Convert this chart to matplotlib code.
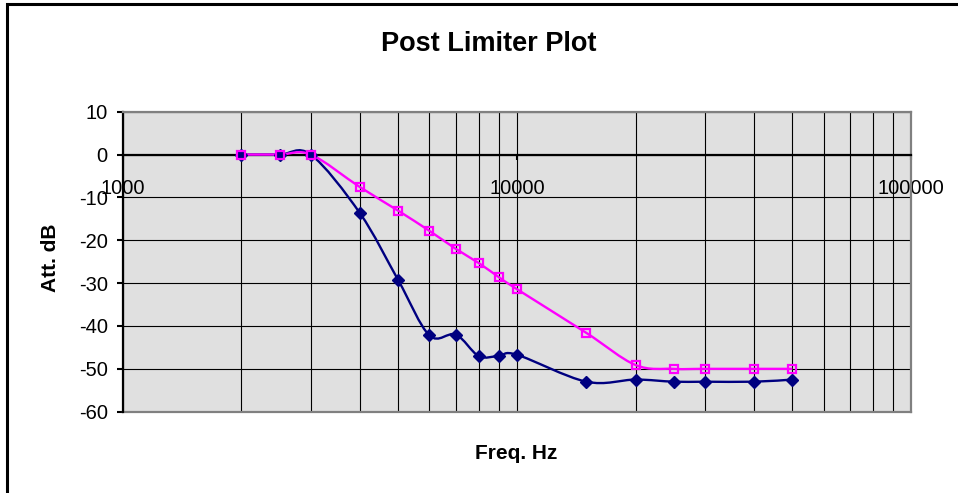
import numpy as np
import matplotlib
matplotlib.use("Agg")
import matplotlib.pyplot as plt
from matplotlib.path import Path
from matplotlib.patches import PathPatch, Rectangle
from matplotlib.ticker import LogLocator, NullFormatter

plt.rcParams['font.family'] = ['Liberation Sans', 'DejaVu Sans']
plt.rcParams['axes.unicode_minus'] = False

# data
freq = [2000, 2500, 3000, 4000, 5000, 6000, 7000, 8000, 9000, 10000,
        15000, 20000, 25000, 30000, 40000, 50000]
att_navy = [0, 0, 0, -13.7, -29.3, -42.2, -42.0, -47.0, -47.0, -46.7,
            -53.0, -52.5, -53.0, -53.0, -53.0, -52.5]
att_pink = [0, 0, 0, -7.6, -13.1, -17.8, -22.0, -25.3, -28.6, -31.4,
            -41.6, -49.1, -50.0, -50.0, -50.0, -50.0]
xticks = [1000, 10000, 100000]
xtick_labels = ['1000', '10000', '100000']
yticks = [-60, -50, -40, -30, -20, -10, 0, 10]


def smooth_path(xs, ys):
    # excel style smoothed line: bezier segments, control points in log-x space
    lx = np.log10(xs)
    y = np.asarray(ys, float)
    n = len(lx)
    verts = [(xs[0], y[0])]
    codes = [Path.MOVETO]
    for i in range(n - 1):
        a = max(i - 1, 0)
        b = min(i + 2, n - 1)
        c1 = (10 ** (lx[i] + (lx[i + 1] - lx[a]) / 6), y[i] + (y[i + 1] - y[a]) / 6)
        c2 = (10 ** (lx[i + 1] - (lx[b] - lx[i]) / 6), y[i + 1] - (y[b] - y[i]) / 6)
        verts += [c1, c2, (xs[i + 1], y[i + 1])]
        codes += [Path.CURVE4] * 3
    return Path(verts, codes)


fig = plt.figure(figsize=(9.58, 4.93), dpi=100)
ax = fig.add_axes([122.7 / 958, 1 - 411.7 / 493, (911 - 122.7) / 958, 300 / 493])
ax.set_facecolor('#e0e0e0')
ax.set_xscale('log')
ax.set_xlim(1000, 100000)
ax.set_ylim(-60, 10)

ax.xaxis.set_minor_locator(LogLocator(base=10, subs=np.arange(2, 10)))
ax.xaxis.set_minor_formatter(NullFormatter())
ax.set_xticks(xticks, labels=xtick_labels)
ax.set_yticks(yticks)
ax.grid(True, which='both', color='black', lw=0.8)
ax.set_axisbelow(True)

# x axis crosses at 0 like excel
ax.spines['bottom'].set_position(('data', 0))
ax.spines['bottom'].set_linewidth(1.6)
ax.spines['left'].set_linewidth(1.6)
for s in ['top', 'right']:
    ax.spines[s].set_color('#808080')
    ax.spines[s].set_linewidth(1.6)
ax.plot([0, 1], [0, 0], transform=ax.transAxes, color='#808080', lw=1.6, clip_on=False)

ax.tick_params(axis='x', which='major', direction='out', length=3.6, width=1.5, pad=14, labelsize=14.5)
ax.tick_params(axis='x', which='minor', length=0)
ax.tick_params(axis='y', direction='out', length=4.3, width=1.5, pad=6.5, labelsize=14.5)

ax.add_patch(PathPatch(smooth_path(freq, att_navy), fill=False, edgecolor='#000080', lw=1.7, zorder=3))
ax.add_patch(PathPatch(smooth_path(freq, att_pink), fill=False, edgecolor='#ff00ff', lw=1.7, zorder=3))
ax.plot(freq, att_navy, ls='none', marker='D', ms=6, color='#000080', zorder=4)
ax.plot(freq, att_pink, ls='none', marker='s', ms=5.5, mfc='none', mec='#ff00ff', mew=1.6, zorder=5)

fig.text(489 / 958, 1 - 50.7 / 493, 'Post Limiter Plot', ha='center', va='baseline',
         fontsize=19.5, fontweight='bold')
fig.text(516 / 958, 1 - 459 / 493, 'Freq. Hz', ha='center', va='baseline',
         fontsize=15, fontweight='bold')
fig.text(51 / 958, 1 - 258 / 493, 'Att. dB', ha='center', va='center', rotation=90,
         fontsize=15, fontweight='bold')

# chart area border
fig.add_artist(Rectangle((7 / 958, -0.1), 1.2, 1.1 - 4 / 493, transform=fig.transFigure,
                         fill=False, edgecolor='black', lw=2.2))

fig.savefig('out.png', dpi=100)
